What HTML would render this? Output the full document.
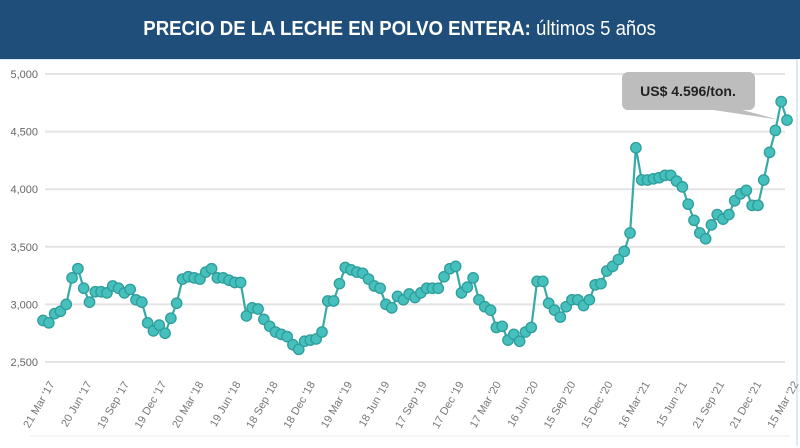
<!DOCTYPE html>
<html><head><meta charset="utf-8"><style>
body{margin:0;width:800px;height:448px;overflow:hidden;background:#fff;font-family:"Liberation Sans",sans-serif}
#title{position:absolute;left:0;top:0;width:800px;height:59px;background:#1f4e7a;color:#fff;text-align:center;line-height:58px;font-size:20px}
#title span{display:inline-block;transform:scaleX(0.93)}
#frame{position:absolute;left:0;top:59px;width:796px;height:386px;border-right:2px solid #dbeaf7;border-top:1px solid #dbeaf7}
svg{position:absolute;left:0;top:0}
</style></head><body>
<div id="title"><span><b>PRECIO DE LA LECHE EN POLVO ENTERA:</b> últimos 5 años</span></div>
<div id="frame"></div>
<svg id="chart" width="800" height="448"></svg>
<script>
const prices=[2860,2840,2920,2940,3000,3230,3310,3140,3020,3110,3110,3100,3160,3140,3100,3130,3040,3020,2840,2770,2820,2750,2880,3010,3220,3240,3230,3220,3280,3310,3230,3230,3210,3190,3190,2900,2970,2960,2870,2810,2760,2740,2720,2650,2610,2680,2690,2700,2760,3030,3030,3180,3320,3300,3280,3270,3220,3160,3140,3000,2970,3070,3040,3090,3060,3100,3140,3140,3140,3240,3310,3330,3100,3150,3230,3040,2980,2950,2800,2810,2690,2740,2680,2760,2800,3200,3200,3010,2950,2890,2980,3040,3040,2990,3040,3170,3180,3290,3330,3390,3460,3620,4360,4080,4080,4090,4100,4120,4120,4070,4020,3870,3730,3620,3570,3690,3780,3740,3780,3900,3960,3990,3860,3860,4080,4320,4510,4760,4600];
const yTicks=[2500,3000,3500,4000,4500,5000];
const xLabels=["21 Mar '17","20 Jun '17","19 Sep '17","19 Dec '17","20 Mar '18","19 Jun '18","18 Sep '18","18 Dec '18","19 Mar '19","18 Jun '19","17 Sep '19","17 Dec '19","17 Mar '20","16 Jun '20","15 Sep '20","15 Dec '20","16 Mar '21","15 Jun '21","21 Sep '21","21 Dec '21","15 Mar '22"];
const tipText="US$ 4.596/ton.";
const NS="http://www.w3.org/2000/svg",svg=document.getElementById('chart');
const x0=43,x1=787,y0=362,y1=74,vmin=2500,vmax=5000;
const xs=i=>x0+i*(x1-x0)/(prices.length-1);
const ys=v=>y0-(v-vmin)/(vmax-vmin)*(y0-y1);
function mk(t,a,p){const e=document.createElementNS(NS,t);for(const k in a)e.setAttribute(k,a[k]);(p||svg).appendChild(e);return e;}
yTicks.forEach(v=>{
 const l=mk('line',{x1:45,x2:785,y1:ys(v),y2:ys(v),stroke:'#e4e4e4','stroke-width':2});
 
 
 const t=mk('text',{x:38,y:ys(v)+4,'text-anchor':'end','font-size':11,fill:'#666'});
 t.textContent=v.toLocaleString('en-US');
 
 
});
xLabels.forEach((s,i)=>{
 const px=x0+i*(x1-x0)/(xLabels.length-1)+12;
 const t=mk('text',{x:px,y:384,'text-anchor':'end','font-size':11,fill:'#777',transform:`rotate(-60 ${px} 384)`});
 t.textContent=s;
 
 
});
const bl=mk('line',{x1:30,x2:790,y1:436,y2:436,stroke:'#eee'});


const path=mk('polyline',{points:prices.map((v,i)=>xs(i)+','+ys(v)).join(' '),fill:'none',stroke:'#36aaa8','stroke-width':2.2});


prices.forEach((v,i)=>{
 const c=mk('circle',{cx:xs(i),cy:ys(v),r:5.2,fill:'#45c0bd',stroke:'#2f9d9b','stroke-width':1.3});
 
 
});
const peak=prices.length-2;
const g=mk('g',{});


mk('polygon',{points:`700,108 735,108 ${xs(peak)-3},${ys(prices[peak])+18}`,fill:'#bdbdbd'},g);
mk('rect',{x:622,y:72,width:133,height:38,rx:6,fill:'#bdbdbd'},g);
const tt=mk('text',{x:688,y:96,'text-anchor':'middle','font-size':14,'font-weight':'bold',fill:'#222'},g);
tt.textContent=tipText;
</script>
</body></html>
